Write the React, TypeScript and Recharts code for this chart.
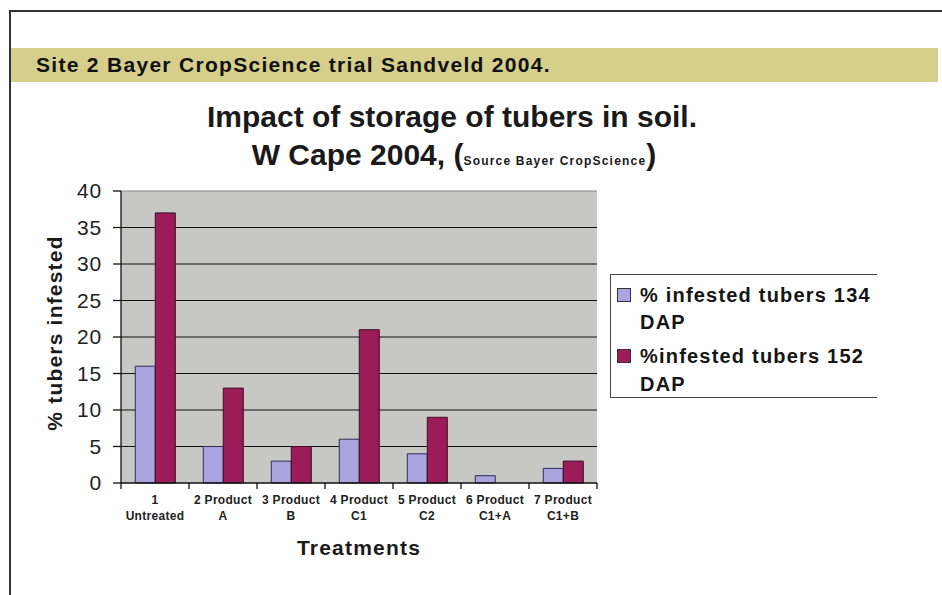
import React from 'react';
import { BarChart, Bar, XAxis, YAxis, CartesianGrid, Legend, ReferenceLine } from 'recharts';

const categories = ['1 Untreated', '2 Product A', '3 Product B', '4 Product C1', '5 Product C2', '6 Product C1+A', '7 Product C1+B'];
const tickTop = ['1', '2 Product', '3 Product', '4 Product', '5 Product', '6 Product', '7 Product'];
const tickBottom = ['Untreated', 'A', 'B', 'C1', 'C2', 'C1+A', 'C1+B'];
const dap134 = [16, 5, 3, 6, 4, 1, 2];
const dap152 = [37, 13, 5, 21, 9, 0, 3];
const yTicks = [0, 5, 10, 15, 20, 25, 30, 35, 40];
const gridValues = [5, 10, 15, 20, 25, 30, 35];
const seriesNames = ['% infested tubers 134', '%infested tubers 152'];

const data = categories.map((c, i) => ({ name: c, a: dap134[i], b: dap152[i] }));

const FONT = '"Liberation Sans", Arial, sans-serif';
const LIGHT = '#aaa4de';
const DARK = '#9b1c58';

const XTick = (props: any) => {
  const { x, y, index, width, visibleTicksCount } = props;
  const count = visibleTicksCount || categories.length;
  const bw = width / count;
  const top = y;
  return (
    <g>
      <line x1={x - bw / 2} x2={x - bw / 2} y1={top} y2={top + 6} stroke="#111" strokeWidth={1.3} />
      {index === count - 1 && <line x1={x + bw / 2} x2={x + bw / 2} y1={top} y2={top + 6} stroke="#111" strokeWidth={1.3} />}
      <text x={x} y={top} textAnchor="middle" fontFamily={FONT} fontWeight="bold" fontSize={12} letterSpacing={0.3} fill="#222">
        <tspan x={x} dy={21}>{tickTop[index]}</tspan>
        <tspan x={x} dy={16}>{tickBottom[index]}</tspan>
      </text>
    </g>
  );
};

const LegendBox = (props: any) => {
  const payload = props.payload || [];
  const tops = [[10, 37], [71, 99]];
  const sq = [13, 74];
  return (
    <div style={{ position: 'relative', width: 266, height: 122, borderTop: '1px solid #444', borderLeft: '1px solid #444', borderBottom: '1px solid #444', background: '#fff', fontFamily: FONT, fontWeight: 'bold', fontSize: 20, letterSpacing: 1.2, color: '#151515' }}>
      {payload.slice(0, 2).map((p: any, i: number) => (
        <React.Fragment key={i}>
          <div style={{ position: 'absolute', left: 6, top: sq[i], width: 12, height: 12, background: p.color, border: '1px solid #333' }} />
          <div style={{ position: 'absolute', left: 29, top: tops[i][0], lineHeight: '20px', whiteSpace: 'nowrap' }}>{p.value}</div>
          <div style={{ position: 'absolute', left: 29, top: tops[i][1], lineHeight: '20px', whiteSpace: 'nowrap' }}>DAP</div>
        </React.Fragment>
      ))}
    </div>
  );
};

export default function App() {
  return (
    <div style={{ position: 'absolute', left: 0, top: 0, width: 942, height: 595, background: '#fff', overflow: 'hidden' }}>
      <div style={{ position: 'absolute', left: 9, top: 10, width: 933, height: 2, background: '#333' }} />
      <div style={{ position: 'absolute', left: 9, top: 10, width: 2, height: 585, background: '#333' }} />
      <div style={{ position: 'absolute', left: 11, top: 48, width: 927, height: 34, background: '#d6ce8b', display: 'flex', alignItems: 'center', paddingLeft: 25, boxSizing: 'border-box', fontFamily: FONT, fontWeight: 'bold', fontSize: 21, letterSpacing: 1.3, color: '#111', whiteSpace: 'nowrap' }}>
        Site 2 Bayer CropScience trial Sandveld 2004.
      </div>
      <div style={{ position: 'absolute', left: 0, top: 102, width: 904, textAlign: 'center', fontFamily: FONT, fontWeight: 'bold', fontSize: 30, lineHeight: '30px', color: '#1a1a1a', whiteSpace: 'nowrap' }}>
        Impact of storage of tubers in soil.
      </div>
      <div style={{ position: 'absolute', left: 0, top: 140, width: 908, textAlign: 'center', fontFamily: FONT, fontWeight: 'bold', fontSize: 30, lineHeight: '30px', color: '#1a1a1a', whiteSpace: 'nowrap' }}>
        W Cape 2004, (<span style={{ fontSize: 12, letterSpacing: 1.2 }}>Source Bayer CropScience</span>)
      </div>
      <div style={{ position: 'absolute', left: 0, top: 0 }}>
        <BarChart width={942} height={595} data={data} margin={{ top: 191, right: 345, bottom: 111, left: 61 }} barCategoryGap="21%" barGap={0}>
          <CartesianGrid vertical={false} fill="#c7c7c3" stroke="#111" strokeWidth={1.2} horizontalValues={gridValues} />
          <ReferenceLine y={40} stroke="#8a8a8a" strokeWidth={1.2} />
          <XAxis dataKey="name" height={1} axisLine={{ stroke: '#111', strokeWidth: 1.3 }} tickLine={false} tickSize={0} tickMargin={0} interval={0} tick={<XTick />}
            label={{ content: (p: any) => {
              const vb = p.viewBox || {};
              return <text x={vb.x + vb.width / 2} y={555} textAnchor="middle" fontFamily={FONT} fontWeight="bold" fontSize={21} letterSpacing={1.2} fill="#1a1a1a">Treatments</text>;
            } }} />
          <YAxis width={60} domain={[0, 40]} ticks={yTicks} interval={0} axisLine={{ stroke: '#111', strokeWidth: 1.3 }} tickLine={{ stroke: '#111', strokeWidth: 1.3 }} tickSize={8} tickMargin={11}
            tick={{ fontFamily: FONT, fontSize: 21, fill: '#222', letterSpacing: 0.8 }}
            label={{ content: (p: any) => {
              const vb = p.viewBox || {};
              const cx = 62;
              const cy = vb.y + vb.height / 2 - 4;
              return <text x={cx} y={cy} transform={`rotate(-90 ${cx} ${cy})`} textAnchor="middle" fontFamily={FONT} fontWeight="bold" fontSize={21} letterSpacing={1.2} fill="#1a1a1a">% tubers infested</text>;
            } }} />
          <YAxis yAxisId="right" orientation="right" width={0} domain={[0, 40]} tick={false} tickLine={false} axisLine={{ stroke: '#8a8a8a', strokeWidth: 1.2 }} />
          <Legend layout="vertical" align="center" verticalAlign="middle" wrapperStyle={{ left: 610, top: 274, width: 266, height: 124 }} content={<LegendBox />} />
          <Bar dataKey="a" name={seriesNames[0]} fill={LIGHT} stroke="#2d2d55" strokeWidth={1} isAnimationActive={false} />
          <Bar dataKey="b" name={seriesNames[1]} fill={DARK} stroke="#3a0f25" strokeWidth={1} isAnimationActive={false} />
        </BarChart>
      </div>
    </div>
  );
}
